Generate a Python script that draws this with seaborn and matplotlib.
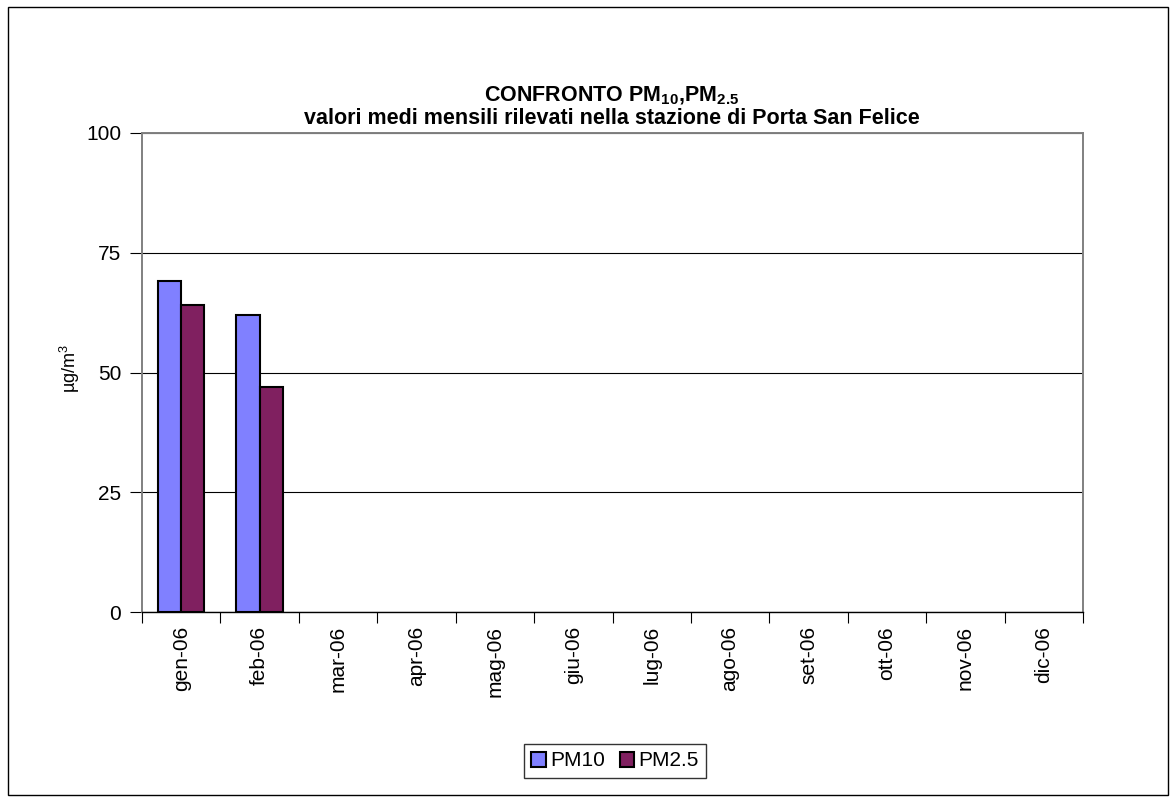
import numpy as np
import pandas as pd
import matplotlib
matplotlib.use("Agg")
import matplotlib.pyplot as plt
import seaborn as sns
from matplotlib.patches import Patch, Rectangle

# dati: medie mensili (solo gen e feb disponibili)
mesi = ["gen-06", "feb-06", "mar-06", "apr-06", "mag-06", "giu-06",
        "lug-06", "ago-06", "set-06", "ott-06", "nov-06", "dic-06"]
pm10 = [69, 62] + [np.nan] * 10
pm25 = [64, 47] + [np.nan] * 10
serie = ["PM10", "PM2.5"]
colori = ["#8080FF", "#802060"]

df = pd.DataFrame({
    "mese": mesi * 2,
    "valore": pm10 + pm25,
    "serie": [serie[0]] * 12 + [serie[1]] * 12,
})

sns.set_style("white")
plt.rcParams["font.family"] = ["Liberation Sans", "DejaVu Sans"]
plt.rcParams["text.color"] = "black"
plt.rcParams["axes.labelcolor"] = "black"
plt.rcParams["xtick.color"] = "black"
plt.rcParams["ytick.color"] = "black"
plt.rcParams["mathtext.fontset"] = "custom"
plt.rcParams["mathtext.rm"] = "Liberation Sans"
plt.rcParams["mathtext.bf"] = "Liberation Sans:bold"

fig = plt.figure(figsize=(11.76, 8.02), dpi=100)
ax = fig.add_axes([142 / 1176, 1 - 612 / 802, (1083 - 142) / 1176, (612 - 133) / 802])

sns.barplot(data=df, x="mese", y="valore", hue="serie", order=mesi,
            palette=colori, width=0.59, edgecolor="black", linewidth=1.5,
            saturation=1, ax=ax, legend=False)

ax.set_xlim(-0.5, 11.5)
ax.set_ylim(0, 100)
ax.set_yticks([0, 25, 50, 75, 100])
ax.tick_params(axis="y", labelsize=15, length=9, pad=6, direction="out", left=True, color="black")
ax.yaxis.grid(True, color="black", linewidth=0.8)
ax.set_axisbelow(True)

# tick alle separazioni, etichette al centro
ax.set_xticks(np.arange(-0.5, 12, 1))
ax.set_xticklabels([])
ax.tick_params(axis="x", which="major", length=8, direction="out", bottom=True, color="black")
ax.set_xticks(np.arange(12), minor=True)
ax.set_xticklabels(mesi, minor=True, rotation=90, fontsize=15)
ax.tick_params(axis="x", which="minor", length=0, pad=10)
ax.set_xlabel("")
ax.set_ylabel("µg/m$^3$", fontsize=13)
ax.yaxis.set_label_coords((82 - 142) / 941, (612 - 368) / 479)

for lato in ["top", "right", "left"]:
    ax.spines[lato].set_color("#808080")
    ax.spines[lato].set_linewidth(1.4)
ax.spines["bottom"].set_color("black")
ax.spines["bottom"].set_linewidth(1.0)

fig.text(612 / 1176, 1 - 96 / 802,
         r"CONFRONTO PM$_{\mathbf{10}}$,PM$_{\mathbf{2.5}}$",
         ha="center", va="center", fontsize=15.5, fontweight="bold")
fig.text(612 / 1176, 1 - 118 / 802,
         "valori medi mensili rilevati nella stazione di Porta San Felice",
         ha="center", va="center", fontsize=15.5, fontweight="bold")

handles = [Patch(facecolor=c, edgecolor="black", linewidth=1.5, label=s)
           for s, c in zip(serie, colori)]
leg = fig.legend(handles=handles, loc="center", bbox_to_anchor=(615 / 1176, 1 - 761 / 802),
                 ncol=2, frameon=True, fancybox=False, edgecolor="black",
                 fontsize=15, handlelength=0.7, handleheight=0.7,
                 handletextpad=0.2, columnspacing=0.7, borderpad=0.35)
leg.get_frame().set_linewidth(1.0)

# cornice esterna
fig.patches.append(Rectangle((8 / 1176, 7 / 802), 1160 / 1176, 788 / 802,
                             transform=fig.transFigure, fill=False,
                             edgecolor="black", linewidth=1.0))

fig.savefig("out.png", dpi=100)
